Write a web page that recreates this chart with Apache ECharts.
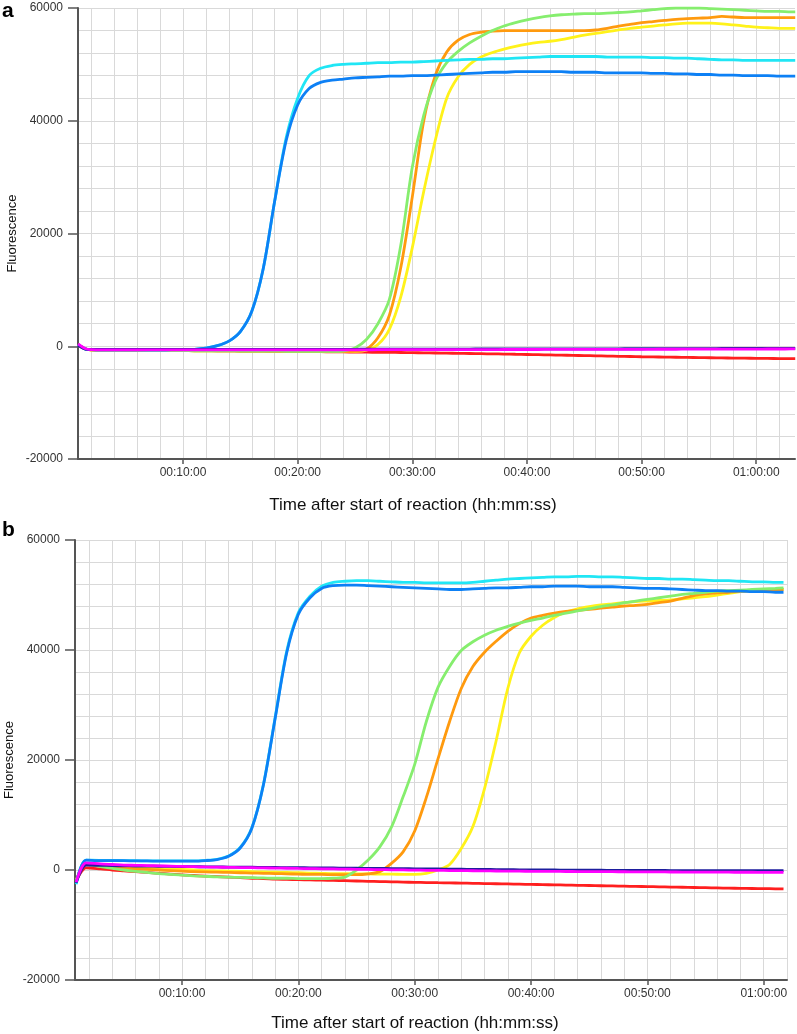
<!DOCTYPE html>
<html>
<head>
<meta charset="utf-8">
<script src="https://cdn.jsdelivr.net/npm/echarts@6/dist/echarts.min.js"></script>
<style>
html,body{margin:0;padding:0;background:#fff;}
#chart{width:797px;height:1034px;}
</style>
</head>
<body>
<div id="chart"></div>
<script>
// ---------- Panel a : time (minutes after start) ----------
const timeA = [0.85,1.5,2,3,4,5,6,7,8,9,
  10,11,12,13,14,15,16,17,18,19,
  20,21,22,23,24,25,26,27,28,29,
  30,31,32,33,34,35,36,37,38,39,
  40,41,42,43,44,45,46,47,48,49,
  50,51,52,53,54,55,56,57,58,59,
  60,61,62,63,63.4];

const cyanA = [300,-500,-600,-650,-650,-650,-650,-650,-650,-600,
  -600,-550,-350,100,900,2600,6200,13800,25800,37000,
  44000,48000,49300,49800,50000,50100,50200,50300,50300,50400,
  50400,50500,50600,50700,50800,50900,50900,51000,51000,51100,
  51200,51300,51400,51400,51400,51400,51400,51300,51300,51300,
  51300,51200,51200,51100,51100,51000,50900,50800,50800,50700,
  50700,50700,50700,50700,50700];
const blueA = [300,-500,-600,-650,-650,-650,-650,-650,-650,-600,
  -600,-550,-350,100,900,2600,6200,13800,25800,36500,
  42800,45700,46800,47200,47400,47600,47700,47800,47900,47900,
  48000,48000,48100,48200,48300,48400,48500,48600,48600,48700,
  48700,48700,48700,48700,48600,48600,48600,48500,48500,48500,
  48500,48400,48400,48300,48300,48200,48200,48100,48100,48000,
  48000,48000,47900,47900,47900];
const greenA = [300,-500,-650,-700,-700,-700,-700,-750,-750,-750,
  -750,-800,-800,-800,-800,-850,-850,-850,-850,-900,
  -900,-900,-900,-900,-800,-300,1200,4000,8300,18000,
  31800,41000,47000,50300,52300,53800,55000,56000,56800,57400,
  57900,58300,58600,58800,58900,59000,59000,59100,59200,59300,
  59500,59700,59900,60000,60000,60000,59900,59800,59700,59600,
  59500,59400,59400,59300,59300];
const orangeA = [300,-500,-650,-700,-700,-700,-700,-750,-750,-750,
  -750,-800,-800,-800,-800,-850,-850,-850,-850,-900,
  -900,-900,-900,-900,-900,-800,-500,1500,5500,14000,
  26500,40000,48000,52200,54300,55300,55700,55900,56000,56000,
  56000,56000,56000,56000,56000,56000,56100,56400,56800,57100,
  57400,57600,57800,58000,58100,58200,58300,58500,58400,58300,
  58300,58300,58300,58300,58300];
const yellowA = [300,-500,-650,-700,-700,-700,-700,-750,-750,-750,
  -750,-800,-800,-800,-800,-850,-850,-850,-850,-900,
  -900,-900,-900,-900,-900,-900,-700,300,3000,8800,
  17500,27500,36500,44000,47800,50000,51300,52100,52700,53200,
  53600,53900,54100,54400,54800,55200,55500,55800,56100,56400,
  56600,56800,57000,57200,57300,57300,57300,57200,57000,56800,
  56600,56500,56400,56400,56400];
const redA = [300,-500,-650,-700,-700,-710,-720,-730,-740,-750,
  -750,-760,-780,-800,-820,-840,-860,-880,-900,-910,
  -930,-950,-970,-990,-1010,-1030,-1050,-1070,-1090,-1110,
  -1140,-1170,-1200,-1230,-1260,-1290,-1320,-1350,-1380,-1420,
  -1460,-1500,-1540,-1580,-1620,-1660,-1700,-1740,-1780,-1820,
  -1860,-1890,-1920,-1950,-1980,-2010,-2040,-2070,-2100,-2120,
  -2140,-2160,-2180,-2200,-2200];
const navyA = [200,-500,-550,-550,-550,-550,-550,-550,-550,-550,
  -550,-550,-550,-550,-550,-550,-550,-550,-550,-550,
  -550,-550,-550,-550,-550,-550,-500,-500,-500,-500,
  -500,-500,-500,-500,-500,-500,-480,-480,-480,-480,
  -460,-460,-460,-460,-450,-450,-450,-450,-450,-440,
  -440,-430,-430,-420,-420,-410,-410,-400,-400,-400,
  -390,-380,-380,-380,-380];
const magentaA = [400,-450,-600,-650,-650,-650,-650,-650,-650,-650,
  -650,-650,-650,-650,-650,-650,-650,-650,-650,-650,
  -650,-650,-650,-650,-650,-650,-650,-600,-600,-600,
  -600,-600,-600,-600,-600,-600,-600,-600,-580,-580,
  -580,-580,-560,-560,-560,-560,-550,-550,-550,-550,
  -540,-540,-530,-530,-520,-520,-510,-510,-500,-500,
  -500,-490,-490,-480,-480];

// ---------- Panel b ----------
const timeB = [0.9,1.75,3,4,5,6,7,8,9,
  10,11,12,13,14,15,16,17,18,19,
  20,21,22,23,24,25,26,27,28,29,
  30,31,32,33,34,35,36,37,38,39,
  40,41,42,43,44,45,46,47,48,49,
  50,51,52,53,54,55,56,57,58,59,
  60,61,61.7];

const blueB = [-2400,1800,1700,1700,1700,1650,1650,1600,1600,
  1600,1600,1700,1900,2500,4000,7600,15500,27500,39500,
  46500,49500,51200,51700,51800,51800,51700,51600,51500,51400,
  51300,51200,51100,51000,51000,51100,51200,51300,51300,51400,
  51500,51500,51600,51600,51600,51500,51500,51500,51400,51300,
  51200,51200,51100,51000,50900,50800,50800,50700,50700,50600,
  50600,50500,50500];
const cyanB = [-2600,1800,1750,1750,1700,1700,1650,1650,1650,
  1650,1650,1750,1950,2550,4100,7700,15600,27700,39800,
  46800,49800,51600,52300,52500,52600,52600,52500,52400,52300,
  52300,52200,52200,52200,52200,52300,52500,52700,52900,53000,
  53100,53200,53300,53300,53400,53400,53300,53300,53200,53100,
  53000,53000,52900,52900,52800,52700,52600,52600,52500,52400,
  52400,52300,52300];
const greenB = [-2000,1100,600,300,0,-250,-450,-650,-800,
  -950,-1050,-1150,-1250,-1300,-1350,-1400,-1450,-1500,-1500,
  -1550,-1550,-1550,-1500,-1300,0,1800,4200,7800,13300,
  19200,27000,33200,37000,39900,41500,42700,43600,44300,44900,
  45400,45800,46300,46700,47100,47500,47900,48200,48600,48900,
  49200,49500,49800,50100,50300,50500,50700,50800,50900,51000,
  51100,51200,51300];
const orangeB = [-2000,1000,700,500,300,200,100,0,-100,
  -200,-300,-350,-400,-450,-500,-550,-600,-650,-700,
  -750,-800,-800,-850,-850,-850,-700,-300,1200,3300,
  7100,13200,20200,27000,33000,37000,39600,41600,43400,44800,
  45800,46300,46700,47000,47200,47400,47600,47800,48000,48100,
  48300,48600,48900,49400,49900,50200,50400,50500,50700,50800,
  50900,51000,51000];
const yellowB = [-2000,1200,1000,800,600,500,400,300,200,
  100,0,-100,-150,-200,-250,-300,-350,-400,-450,
  -500,-550,-600,-650,-650,-700,-700,-750,-750,-800,
  -800,-600,0,1000,3900,7900,14800,23500,33000,39500,
  42500,44500,45900,46900,47500,47900,48200,48400,48600,48800,
  48900,49000,49100,49300,49500,49700,50000,50300,50600,50800,
  50900,51000,51000];
const redB = [-2000,400,200,0,-150,-300,-450,-600,-750,
  -900,-1000,-1100,-1200,-1300,-1400,-1500,-1550,-1650,-1700,
  -1750,-1800,-1850,-1900,-1950,-2000,-2050,-2100,-2150,-2200,
  -2250,-2280,-2310,-2340,-2380,-2420,-2460,-2500,-2540,-2580,
  -2620,-2660,-2700,-2740,-2780,-2820,-2860,-2900,-2940,-2980,
  -3020,-3060,-3100,-3140,-3180,-3220,-3260,-3300,-3330,-3360,
  -3390,-3420,-3450];
const navyB = [-2300,900,850,800,750,720,700,680,650,
  620,600,580,560,540,520,500,480,460,440,
  420,400,380,360,340,320,300,280,260,240,
  220,200,180,160,140,120,100,80,60,40,
  20,0,0,-20,-20,-40,-40,-60,-60,-80,
  -80,-80,-100,-100,-100,-100,-120,-120,-120,-120,
  -120,-120,-120];
const magentaB = [-2200,1300,1100,1000,900,850,800,750,700,
  650,600,550,520,480,450,420,380,350,320,
  280,250,220,190,160,130,100,70,40,10,
  -20,-50,-70,-100,-120,-140,-160,-180,-200,-220,
  -240,-250,-260,-270,-280,-290,-300,-310,-320,-330,
  -340,-350,-360,-370,-380,-390,-400,-400,-410,-410,
  -420,-420,-430];

// ---------- ticks ----------
const yTicks = [-20000, 0, 20000, 40000, 60000];
const xLabelTicks = [10, 20, 30, 40, 50, 60];          // minutes
const xGridTicks = [2,4,6,8,10,12,14,16,18,20,22,24,26,28,30,
  32,34,36,38,40,42,44,46,48,50,52,54,56,58,60,62];    // minutes

const colors = {
  red:'#ff1f1f', yellow:'#fff21a', orange:'#ff9a0e', green:'#86ee6e',
  cyan:'#20e6f5', blue:'#0d80f5', navy:'#1e1e9e', magenta:'#ff00ff'
};

const FONT = 'Liberation Sans, Arial, Helvetica, sans-serif';

function pad(n){ return (n < 10 ? '0' : '') + n; }
function fmtTime(v){
  const r = Math.round(v);
  return pad(Math.floor(r / 60)) + ':' + pad(r % 60) + ':00';
}

function lineSeries(name, times, vals, color, xi, yi){
  return {
    name, type:'line', xAxisIndex:xi, yAxisIndex:yi,
    data: times.map((t,i)=>[t, vals[i]]),
    showSymbol:false, smooth:0.3,
    lineStyle:{color, width:2.8}, itemStyle:{color},
    emphasis:{disabled:true}, clip:true
  };
}

function labelAxis(gi, min, max){
  return {
    gridIndex:gi, type:'value', min, max,
    axisLine:{show:true, onZero:false, lineStyle:{color:'#555', width:2}},
    axisTick:{show:true, length:5, customValues:xLabelTicks, lineStyle:{color:'#555', width:1.5}},
    axisLabel:{customValues:xLabelTicks, formatter:fmtTime, color:'#333', fontSize:12, fontFamily:FONT, margin:8},
    splitLine:{show:false}
  };
}
function gridAxis(gi, min, max){
  return {
    gridIndex:gi, type:'value', min, max,
    axisLine:{show:false, onZero:false},
    axisTick:{show:false, customValues:xGridTicks},
    axisLabel:{show:false, customValues:xGridTicks},
    splitLine:{show:true, lineStyle:{color:'#d9d9d9', width:1}}
  };
}
function yAxis(gi){
  return {
    gridIndex:gi, type:'value', min:yTicks[0], max:yTicks[yTicks.length-1],
    interval:yTicks[1]-yTicks[0],
    axisLine:{show:true, onZero:false, lineStyle:{color:'#555', width:2}},
    axisTick:{show:true, length:10, lineStyle:{color:'#555', width:1.5}},
    axisLabel:{color:'#333', fontSize:12, fontFamily:FONT, margin:15, formatter:v => String(v)},
    splitLine:{show:true, lineStyle:{color:'#d9d9d9', width:1}},
    minorTick:{show:false, splitNumber:5},
    minorSplitLine:{show:true, lineStyle:{color:'#d9d9d9', width:1}},
    name:'Fluorescence', nameLocation:'middle', nameGap:59, nameMoveOverlap:false,
    nameTextStyle:{color:'#111', fontSize:13, fontFamily:FONT}
  };
}

const order = ['red','yellow','orange','green','cyan','blue','navy','magenta'];
const dataA = {red:redA, yellow:yellowA, orange:orangeA, green:greenA, cyan:cyanA, blue:blueA, navy:navyA, magenta:magentaA};
const dataB = {red:redB, yellow:yellowB, orange:orangeB, green:greenB, cyan:cyanB, blue:blueB, navy:navyB, magenta:magentaB};

const series = [];
order.forEach(k => series.push(lineSeries(k+'A', timeA, dataA[k], colors[k], 0, 0)));
order.forEach(k => series.push(lineSeries(k+'B', timeB, dataB[k], colors[k], 2, 1)));

const xTitle = 'Time after start of reaction (hh:mm:ss)';

const option = {
  animation:false,
  backgroundColor:'#fff',
  grid:[
    {left:78, top:8, width:717, height:451, containLabel:false, outerBoundsMode:'none'},
    {left:75, top:540, width:712, height:440, containLabel:false, outerBoundsMode:'none'}
  ],
  xAxis:[
    labelAxis(0, 0.84, 63.38),
    gridAxis(0, 0.84, 63.38),
    labelAxis(1, 0.80, 62.0),
    gridAxis(1, 0.80, 62.0)
  ],
  yAxis:[ yAxis(0), yAxis(1) ],
  graphic:[
    {type:'text', style:{x:2, y:11, text:'a', font:'bold 21px '+FONT, fill:'#000', verticalAlign:'middle'}},
    {type:'text', style:{x:2, y:530, text:'b', font:'bold 21px '+FONT, fill:'#000', verticalAlign:'middle'}},
    {type:'text', style:{x:413, y:505, text:xTitle, font:'17px '+FONT, fill:'#111', align:'center', verticalAlign:'middle'}},
    {type:'text', style:{x:415, y:1023, text:xTitle, font:'17px '+FONT, fill:'#111', align:'center', verticalAlign:'middle'}}
  ],
  series
};

const chart = echarts.init(document.getElementById('chart'), null, {renderer:'canvas'});
chart.setOption(option);
</script>
</body>
</html>
